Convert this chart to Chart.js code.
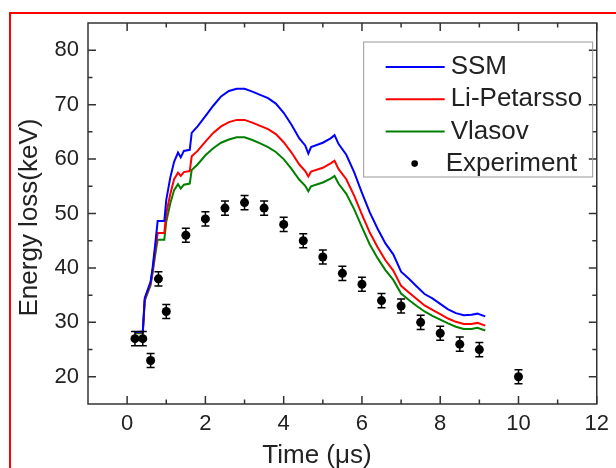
<!DOCTYPE html>
<html>
<head>
<meta charset="utf-8">
<script src="https://cdn.jsdelivr.net/npm/chart.js@4/dist/chart.umd.min.js"></script>
<style>
  html, body { margin: 0; padding: 0; background: #fff; overflow: hidden; }
  #wrap { position: relative; width: 616px; height: 468px; }
  #frame { position: absolute; left: 9px; top: 12px; width: 700px; height: 600px;
           border: 2px solid #ff0000; pointer-events: none; }
</style>
</head>
<body>
<div id="wrap">
  <canvas id="energyChart" width="616" height="468"></canvas>
  <div id="frame"></div>
</div>
<script>
// model curves (time in us, energy loss in keV)
const times = [0.2, 0.4, 0.45, 0.6, 0.65, 0.72, 0.78, 0.95, 1.0, 1.1, 1.2, 1.3, 1.37, 1.45, 1.6, 1.65, 1.8,
  2.0, 2.2, 2.4, 2.6, 2.8, 3.0, 3.2, 3.4, 3.6, 3.8, 4.0, 4.2, 4.4, 4.55, 4.63, 4.7, 5.0, 5.2, 5.3, 5.4,
  5.6, 5.8, 6.0, 6.2, 6.4, 6.6, 6.8, 7.0, 7.2, 7.4, 7.6, 7.8, 8.0, 8.2, 8.4, 8.6, 8.8, 8.95, 9.15];
const ssm = [28.2, 28.3, 34.5, 37.5, 40, 44.5, 48.6, 48.6, 52.5, 56.5, 59.5, 61.2, 60.3, 61.5, 61.7, 64.8, 66,
  67.9, 69.8, 71.5, 72.5, 72.9, 72.9, 72.4, 71.8, 71.2, 70.2, 68.5, 66.3, 63.8, 62.5, 61, 62.2, 63, 63.8, 64.4, 62.8,
  60.8, 57.6, 53.8, 50.2, 47.2, 44.5, 42.5, 39.3, 38, 36.6, 35.2, 34.4, 33.4, 32.4, 31.7, 31.3, 31.4, 31.6, 31.1];
const liPetarsso = [28.2, 28.2, 34.2, 37.2, 39.6, 43.5, 46.4, 46.4, 50, 53.5, 56.3, 57.5, 56.9, 57.6, 57.8, 60.5, 61.5,
  63.2, 64.8, 66, 66.8, 67.2, 67.2, 66.7, 66.1, 65.5, 64.6, 63.1, 61.2, 59, 57.8, 56.8, 57.7, 58.4, 59.2, 59.7, 58.2,
  56.3, 53.3, 49.8, 46.5, 43.8, 41.4, 39.5, 36.7, 35.5, 34.3, 33.1, 32.3, 31.5, 30.7, 30.1, 29.7, 29.7, 29.9, 29.4];
const vlasov = [28, 28, 34, 36.8, 39, 42.5, 45.2, 45.2, 48.5, 51.8, 54.3, 55.4, 54.6, 55.3, 55.5, 58, 59,
  60.7, 62, 63, 63.6, 64, 64, 63.5, 62.9, 62.2, 61.3, 60, 58.2, 56.2, 55.1, 54.1, 55, 55.7, 56.4, 56.9, 55.5,
  53.6, 50.8, 47.5, 44.3, 41.8, 39.6, 37.8, 35.3, 34.1, 33, 32, 31.2, 30.5, 29.8, 29.2, 28.8, 28.8, 29, 28.5];

// experiment
const expTimes = [0.2, 0.4, 0.6, 0.8, 1.0, 1.5, 2.0, 2.5, 3.0, 3.5, 4.0, 4.5, 5.0, 5.5, 6.0, 6.5, 7.0, 7.5, 8.0, 8.5, 9.0, 10];
const expValues = [27, 27, 23, 38, 32, 46, 49, 51, 52, 51, 48, 45, 42, 39, 37, 34, 33, 30, 28, 26, 25, 20];
const expErrors = [1.3, 1.3, 1.3, 1.3, 1.3, 1.3, 1.3, 1.3, 1.3, 1.3, 1.3, 1.3, 1.3, 1.3, 1.3, 1.3, 1.3, 1.3, 1.3, 1.3, 1.3, 1.3];

const xTicks = [0, 2, 4, 6, 8, 10, 12];
const yTicks = [20, 30, 40, 50, 60, 70, 80];

const FONT = "'Liberation Sans', Arial, sans-serif";
const INK = "#222";

// frame, inward ticks, error bars, legend, axis titles
const decor = {
    id: "decor",
    afterDatasetsDraw(chart) {
        const ctx = chart.ctx;
        const xs = chart.scales.x, ys = chart.scales.y;

        // error bars
        ctx.save();
        ctx.strokeStyle = "#000";
        ctx.lineWidth = 1.5;
        expTimes.forEach((t, i) => {
            const px = xs.getPixelForValue(t);
            const top = ys.getPixelForValue(expValues[i] + expErrors[i]);
            const bot = ys.getPixelForValue(expValues[i] - expErrors[i]);
            ctx.beginPath();
            ctx.moveTo(px, top); ctx.lineTo(px, bot);
            ctx.moveTo(px - 4, top); ctx.lineTo(px + 4, top);
            ctx.moveTo(px - 4, bot); ctx.lineTo(px + 4, bot);
            ctx.stroke();
        });
        ctx.restore();
    },
    afterDraw(chart) {
        const ctx = chart.ctx;
        const xs = chart.scales.x, ys = chart.scales.y;
        const a = chart.chartArea;
        ctx.save();
        ctx.strokeStyle = "#333";
        ctx.lineWidth = 1.5;
        ctx.strokeRect(a.left, a.top, a.right - a.left, a.bottom - a.top);

        const tick = (vals, len, horiz) => {
            vals.forEach(v => {
                ctx.beginPath();
                if (horiz) {
                    const p = xs.getPixelForValue(v);
                    ctx.moveTo(p, a.bottom); ctx.lineTo(p, a.bottom - len);
                    ctx.moveTo(p, a.top); ctx.lineTo(p, a.top + len);
                } else {
                    const p = ys.getPixelForValue(v);
                    ctx.moveTo(a.left, p); ctx.lineTo(a.left + len, p);
                    ctx.moveTo(a.right, p); ctx.lineTo(a.right - len, p);
                }
                ctx.stroke();
            });
        };
        const mid = arr => arr.slice(0, -1).map((v, i) => (v + arr[i + 1]) / 2);
        tick(xTicks, 8, true);
        tick(mid(xTicks), 4.5, true);
        tick(yTicks, 8, false);
        tick(mid(yTicks), 4.5, false);

        // legend
        const lx = a.left + (a.right - a.left) * 0.532 + 5;
        const ly = a.top + 19;
        ctx.strokeStyle = "#999";
        ctx.lineWidth = 1;
        ctx.strokeRect(lx, ly, 229, 135);
        ctx.font = "26px " + FONT;
        ctx.fillStyle = INK;
        ctx.textBaseline = "middle";
        ctx.textAlign = "left";
        chart.data.datasets.forEach((ds, i) => {
            const cy = ly + 25 + i * 32.2;
            if (ds.showLine) {
                ctx.strokeStyle = ds.borderColor;
                ctx.lineWidth = 2;
                ctx.beginPath();
                ctx.moveTo(lx + 22, cy); ctx.lineTo(lx + 81, cy);
                ctx.stroke();
                ctx.fillStyle = INK;
                ctx.fillText(ds.label, lx + 87, cy);
            } else {
                ctx.fillStyle = "#000";
                ctx.beginPath();
                ctx.arc(lx + 51, cy, 3.3, 0, Math.PI * 2);
                ctx.fill();
                ctx.fillStyle = INK;
                ctx.fillText(ds.label, lx + 82, cy);
            }
        });

        // axis titles
        ctx.font = "26px " + FONT;
        ctx.fillStyle = INK;
        ctx.textAlign = "center";
        ctx.fillText("Time (\u03bcs)", a.left + (a.right - a.left) * 0.45, 456);
        ctx.translate(30, (a.top + a.bottom) / 2 + 4);
        ctx.rotate(-Math.PI / 2);
        ctx.fillText("Energy loss(keV)", 0, 0);
        ctx.restore();
    }
};

const pts = arr => times.map((t, i) => ({ x: t, y: arr[i] }));

new Chart(document.getElementById("energyChart"), {
    type: "scatter",
    data: {
        datasets: [
            { label: "SSM", data: pts(ssm), showLine: true, borderColor: "#0000ff", borderWidth: 2, pointRadius: 0, tension: 0 },
            { label: "Li-Petarsso", data: pts(liPetarsso), showLine: true, borderColor: "#ff0000", borderWidth: 2, pointRadius: 0, tension: 0 },
            { label: "Vlasov", data: pts(vlasov), showLine: true, borderColor: "#008000", borderWidth: 2, pointRadius: 0, tension: 0 },
            {
                label: "Experiment",
                data: expTimes.map((t, i) => ({ x: t, y: expValues[i] })),
                showLine: false, pointRadius: 4.5, backgroundColor: "#000", borderWidth: 0
            }
        ]
    },
    options: {
        responsive: false,
        animation: false,
        layout: { padding: { top: 23, right: 9, left: 0, bottom: 0 } },
        plugins: { legend: { display: false }, tooltip: { enabled: false } },
        scales: {
            x: {
                type: "linear", min: -1, max: 12,
                afterBuildTicks: s => { s.ticks = xTicks.map(v => ({ value: v })); },
                afterFit: s => { s.height = 64; },
                grid: { display: false, drawTicks: false },
                border: { display: false },
                ticks: { padding: 7, color: INK, font: { size: 22, family: FONT }, maxRotation: 0 }
            },
            y: {
                type: "linear", min: 15, max: 85,
                afterBuildTicks: s => { s.ticks = yTicks.map(v => ({ value: v })); },
                afterFit: s => { s.width = 88; },
                grid: { display: false, drawTicks: false },
                border: { display: false },
                ticks: { padding: 9, color: INK, font: { size: 22, family: FONT } }
            }
        }
    },
    plugins: [decor]
});
</script>
</body>
</html>
